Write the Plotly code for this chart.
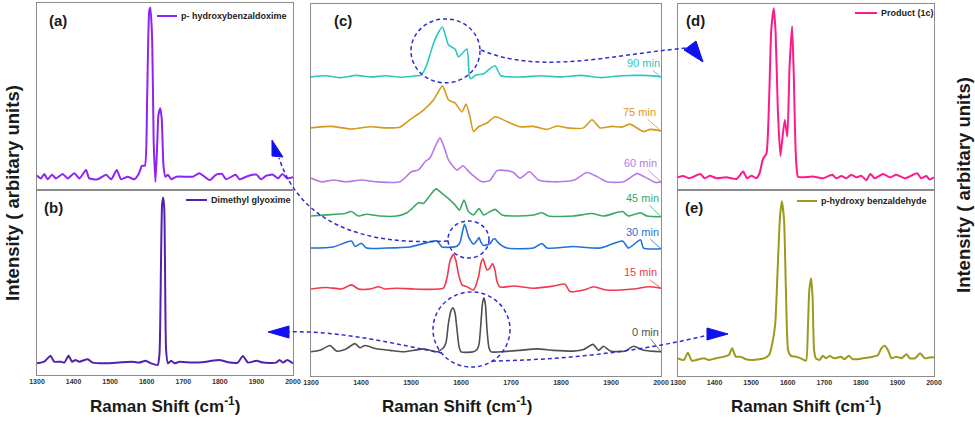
import plotly.graph_objects as go

# ---- data (arbitrary intensity units) ----
# (a) p- hydroxybenzaldoxime
shift_a = [1300, 1311, 1320, 1329, 1341, 1352, 1370, 1384, 1402, 1416, 1434, 1443, 1466, 1489, 1503,
           1518, 1530, 1548, 1566, 1578, 1587, 1595, 1601, 1607, 1610, 1615, 1619, 1624, 1629, 1632,
           1637, 1641, 1646, 1651, 1658, 1667, 1681, 1708, 1726, 1744, 1772, 1790, 1806, 1817, 1843,
           1854, 1877, 1900, 1913, 1927, 1945, 1959, 1971, 1984, 2000]
int_a = [7.7, 6.2, 8.6, 5.7, 8.2, 6.2, 8.6, 6.2, 9.0, 6.2, 10.7, 6.2, 5.7, 8.2, 5.7,
         10.7, 5.7, 7.1, 5.7, 8.6, 12.9, 13.0, 48, 96, 97.5, 80, 26, 4.3, 26, 40,
         43.7, 38.3, 12.5, 7.1, 8.2, 5.7, 7.1, 7.1, 7.1, 9.0, 5.3, 8.2, 8.6, 5.7, 8.2,
         5.7, 7.5, 8.2, 5.7, 7.7, 8.2, 6.2, 8.6, 6.2, 6.8]

# (b) Dimethyl glyoxime
shift_b = [1300, 1320, 1337, 1347, 1366, 1375, 1386, 1396, 1405, 1416, 1439, 1452, 1489, 1525, 1557,
           1580, 1597, 1612, 1630, 1635, 1639, 1642, 1645, 1648, 1650, 1653, 1658, 1667, 1676, 1690,
           1726, 1763, 1799, 1827, 1849, 1863, 1877, 1900, 1918, 1954, 1963, 1973, 1984, 2000]
int_b = [6.3, 7.2, 10.4, 7.2, 7.2, 6.7, 10.4, 7.2, 8.1, 7.2, 8.5, 6.7, 6.3, 6.8, 7.2,
         6.7, 7.7, 6.3, 5.4, 11.7, 60, 92, 96, 90, 60, 13.4, 6.3, 7.7, 6.3, 7.2,
         6.7, 7.2, 8.1, 6.7, 6.7, 10.3, 6.7, 7.7, 6.7, 6.7, 8.1, 6.7, 8.1, 6.3]

# (c) time series, relative to each trace's own baseline
times = ["0 min", "15 min", "30 min", "45 min", "60 min", "75 min", "90 min"]
offsets = [6.5, 23.4, 34.4, 43, 52.2, 66.7, 80.4]

shift_0 = [1300, 1318, 1338, 1351, 1368, 1388, 1398, 1408, 1431, 1458, 1485, 1525, 1552, 1565, 1570,
           1575, 1580, 1584, 1588, 1592, 1596, 1600, 1625, 1632, 1636, 1640, 1643, 1646, 1649, 1652,
           1656, 1660, 1678, 1718, 1752, 1785, 1825, 1845, 1864, 1875, 1885, 1899, 1929, 1945, 1965, 2000]
int_0 = [0, 0.4, 1.7, 0.2, 0.6, 2.2, 1.1, 1.7, 0.8, 0.4, 0, 0.8, 0, 1.1, 2.5,
         7.8, 11, 11.8, 10.5, 6, 1.5, 0, 0, 0.6, 2, 8, 13, 14.5, 12.5, 6,
         1, 0, 0, 0.4, 0.8, 0.4, 0.2, 0.6, 2, 0.4, 1.5, 0.2, 0.2, 1.5, 0.4, 0]

shift_15 = [1300, 1331, 1361, 1381, 1395, 1418, 1435, 1448, 1471, 1505, 1545, 1565, 1572, 1578, 1585,
            1590, 1595, 1602, 1612, 1625, 1635, 1640, 1644, 1648, 1652, 1657, 1663, 1668, 1672, 1678,
            1705, 1745, 1785, 1808, 1818, 1845, 1865, 1892, 1945, 1975, 2000]
int_15 = [0, 0.4, 0, 1.1, 0, 0, 0.6, 0, 0.2, 0, -0.1, 0.2, 3, 7.5, 9.3,
          7.5, 4, 1.1, 0.6, -0.3, 3.3, 7, 8.1, 6.5, 5.1, 5.5, 6.8, 5, 2, 0.5,
          0.8, 0.2, 0.8, 1.3, -0.7, -0.3, 0.6, -0.3, 0, 0.6, 0.2]

shift_30 = [1300, 1345, 1381, 1388, 1401, 1411, 1451, 1498, 1552, 1562, 1592, 1598, 1602, 1607, 1611,
            1615, 1625, 1632, 1636, 1640, 1645, 1658, 1664, 1668, 1672, 1678, 1692, 1745, 1762, 1772,
            1825, 1879, 1923, 1935, 1959, 1965, 2000]
int_30 = [0, 0.3, 1.9, 0.4, 1.3, 0, 0, 0.3, 1.9, 0.3, 0.5, 1.5, 3.8, 6.4, 5,
          3, 1, 2, 2.8, 1.5, 0.7, 1.2, 2.3, 2.5, 1.8, 1, 0, 0, 1.2, 0,
          0.4, 0, 1.9, 0, 2.2, 0, -0.2]

shift_45 = [1300, 1331, 1368, 1381, 1395, 1411, 1438, 1471, 1492, 1502, 1515, 1525, 1535, 1550, 1562,
            1575, 1588, 1597, 1606, 1615, 1625, 1636, 1645, 1668, 1682, 1712, 1745, 1762, 1775, 1825,
            1862, 1885, 1923, 1935, 1959, 1972, 2000]
int_45 = [0, 0.3, 0.7, 1.2, 0, 0.5, 0, 0, 0.9, 2, 3.6, 3.4, 5, 7.3, 6.1,
          4.7, 3, 1.6, 4.3, 1.2, 0.3, 2, 0.3, 1.8, 0.3, 0, 0.3, 0.9, 0, 0,
          0.7, 0, 1.2, 0, 0.9, 0, -0.2]

shift_60 = [1300, 1320, 1345, 1370, 1400, 1430, 1478, 1501, 1515, 1528, 1538, 1548, 1558, 1566, 1575,
            1592, 1604, 1618, 1642, 1658, 1672, 1692, 1705, 1718, 1737, 1755, 1785, 1825, 1852, 1872,
            1892, 1925, 1952, 1972, 1989, 2000]
int_60 = [1, 0, 0.5, 0, 0.5, 0, 0, 2.7, 3.2, 5.4, 6.4, 9.4, 11.8, 9.4, 5.9,
          3.2, 4.3, 2.4, 0, 0.4, 3, 3, 2.5, 1, 2.7, 0.5, 0, 0.4, 2.5, 1.4,
          0, 0, 2.2, 1, -0.2, 0]

shift_75 = [1300, 1340, 1380, 1420, 1450, 1478, 1498, 1525, 1545, 1563, 1575, 1588, 1602, 1610, 1618,
            1625, 1635, 1652, 1668, 1692, 1718, 1745, 1772, 1792, 1812, 1845, 1862, 1878, 1902, 1922,
            1938, 1965, 1978, 2000]
int_75 = [0, 0.4, -0.3, 0.3, 0, 0.2, 2.2, 4.8, 7.5, 11.3, 7.5, 6.7, 4.3, 6.4, 3,
          -1, 0.3, 1.3, 3, 1.7, 0.3, 0.4, -0.4, 0.5, 0, 0, 2.2, 0, 0.4, 0.2,
          1, -1, -0.4, -0.8]

shift_90 = [1300, 1330, 1360, 1390, 1420, 1450, 1480, 1510, 1520, 1530, 1545, 1555, 1563, 1575, 1588,
            1595, 1605, 1612, 1617, 1620, 1630, 1645, 1655, 1668, 1680, 1720, 1760, 1800, 1840, 1880,
            1920, 1960, 1990, 2000]
int_90 = [0, 0.3, -0.2, 0.4, 0, 0.3, -0.1, 0.3, 0.5, 2.7, 9, 12, 13.4, 8.6, 7.5,
          5.4, 6.7, 7.5, 0, -0.5, 0.5, 0.8, 1.9, 3, 0.3, 0, 0.3, 0, 0.4, -0.2,
          0.3, 0.4, 0.2, 0]

# (d) Product (1c)
shift_d = [1300, 1314, 1332, 1361, 1373, 1387, 1405, 1432, 1460, 1478, 1489, 1501, 1514, 1523, 1532,
           1542, 1549, 1555, 1562, 1567, 1573, 1580, 1585, 1592, 1599, 1605, 1612, 1616, 1622, 1628,
           1642, 1669, 1696, 1722, 1733, 1747, 1760, 1774, 1788, 1801, 1815, 1826, 1838, 1861, 1879,
           1897, 1920, 1954, 1965, 1979, 1988, 2000]
int_d = [6.8, 7.5, 6.3, 8.6, 6.3, 7.7, 6.3, 6.8, 5.9, 9.9, 6.3, 7.7, 6.3, 9.0, 16.5,
         19.7, 48, 86, 97.7, 84, 43, 18.3, 27, 37.6, 28.7, 66, 88, 66, 19.7, 7.2,
         6.8, 7.2, 6.3, 8.2, 6.3, 7.5, 6.3, 8.2, 6.8, 7.7, 5.3, 8.6, 6.3, 8.6, 6.8,
         8.2, 6.3, 9.0, 6.3, 7.5, 5.7, 6.8]

# (e) p-hydroxy benzaldehyde
shift_e = [1300, 1316, 1327, 1338, 1357, 1371, 1384, 1403, 1426, 1439, 1448, 1458, 1471, 1485, 1503,
           1522, 1535, 1549, 1558, 1566, 1572, 1579, 1584, 1590, 1595, 1601, 1609, 1623, 1636, 1650,
           1655, 1659, 1664, 1668, 1672, 1677, 1687, 1696, 1705, 1714, 1728, 1746, 1755, 1767, 1778,
           1806, 1833, 1847, 1856, 1865, 1874, 1884, 1897, 1911, 1925, 1934, 1948, 1962, 1975, 1989, 2000]
int_e = [9.5, 8.6, 12.5, 8.2, 9.0, 9.5, 8.6, 9.5, 10.4, 11.3, 14.9, 10.4, 10.4, 9.0, 8.6,
         9.0, 9.5, 11.3, 17.6, 28.3, 55, 85.8, 93.9, 84, 46.5, 14, 10.8, 10.4, 9.5, 8.2,
         24.7, 46.2, 52.5, 42.6, 14, 9.5, 8.6, 10.9, 9.5, 10.8, 9.5, 10.4, 9.0, 10.9, 9.0,
         9.5, 10.4, 11.3, 14.9, 16.3, 14, 9.5, 10.4, 9.5, 11.7, 9.5, 9.5, 12.2, 9.5, 10.0, 10.0]

# ---- styling ----
W, H = 975, 421
FONT = "Liberation Sans"
c_colors = ["#505050", "#f2384c", "#1f72d8", "#3aa864", "#b67ae6", "#d39a1c", "#2ec7bf"]
c_shifts = [shift_0, shift_15, shift_30, shift_45, shift_60, shift_75, shift_90]
c_ints = [int_0, int_15, int_30, int_45, int_60, int_75, int_90]
dash_blue = "#2d2dd6"


def px(x):
    return x / W


def py(y):
    return 1 - y / H


fig = go.Figure()

side = [(shift_a, int_a, "#8f22f5", "x", "y"),
        (shift_b, int_b, "#5322ad", "x2", "y2"),
        (shift_d, int_d, "#ff1a8c", "x4", "y4"),
        (shift_e, int_e, "#9a9a1c", "x5", "y5")]
for xs, ys, col, xa, ya in side:
    fig.add_trace(go.Scatter(x=xs, y=ys, mode="lines", xaxis=xa, yaxis=ya,
                             line=dict(color=col, width=2, shape="spline", smoothing=0.5)))

for xs, ys, off, col in zip(c_shifts, c_ints, offsets, c_colors):
    fig.add_trace(go.Scatter(x=xs, y=[v + off for v in ys], mode="lines", xaxis="x3", yaxis="y3",
                             line=dict(color=col, width=1.6, shape="spline", smoothing=0.6)))

ax_common = dict(range=[1300, 2000], showline=True, mirror=True, linecolor="#8c8c8c", linewidth=1,
                 showgrid=False, zeroline=False, ticks="", automargin=False,
                 tickvals=[1300, 1400, 1500, 1600, 1700, 1800, 1900, 2000],
                 tickfont=dict(family=FONT, size=7, color="#333", weight="bold"))
ay_common = dict(range=[0, 100], showline=True, mirror=True, linecolor="#8c8c8c", linewidth=1,
                 showgrid=False, zeroline=False, showticklabels=False, ticks="", automargin=False)

dom_l = [px(37), px(293)]
dom_c = [px(311), px(661)]
dom_r = [px(678), px(934)]
fig.update_layout(
    xaxis=dict(ax_common, domain=dom_l, anchor="y", showticklabels=False),
    xaxis2=dict(ax_common, domain=dom_l, anchor="y2"),
    xaxis3=dict(ax_common, domain=dom_c, anchor="y3"),
    xaxis4=dict(ax_common, domain=dom_r, anchor="y4", showticklabels=False),
    xaxis5=dict(ax_common, domain=dom_r, anchor="y5"),
    yaxis=dict(ay_common, domain=[py(190), py(3)], anchor="x"),
    yaxis2=dict(ay_common, domain=[py(375), py(190)], anchor="x2"),
    yaxis3=dict(ay_common, domain=[py(376), py(4)], anchor="x3"),
    yaxis4=dict(ay_common, domain=[py(190), py(4)], anchor="x4"),
    yaxis5=dict(ay_common, domain=[py(376), py(190)], anchor="x5"),
)

ann = []
shapes = []


def note(text, x, y, size, color="#1a1a1a", xanchor="center", **kw):
    ann.append(dict(text=text, x=px(x), y=py(y), xref="paper", yref="paper", showarrow=False,
                    xanchor=xanchor, yanchor="middle", font=dict(family=FONT, size=size, color=color), **kw))


# panel labels
for lab, x, y in [("(a)", 58, 20), ("(b)", 53, 207), ("(c)", 343, 20), ("(d)", 695, 21), ("(e)", 694, 207)]:
    note("<b>%s</b>" % lab, x, y, 15)

# in-panel legends
legends = [("p- hydroxybenzaldoxime", "#8f22f5", 157, 177, 16),
           ("Dimethyl glyoxime", "#5322ad", 186, 207, 200),
           ("Product (1c)", "#ff1a8c", 855, 877, 13),
           ("p-hydroxy benzaldehyde", "#9a9a1c", 797, 817, 201)]
for txt, col, x0, x1, y in legends:
    shapes.append(dict(type="line", xref="paper", yref="paper", x0=px(x0), x1=px(x1), y0=py(y), y1=py(y),
                       line=dict(color=col, width=2)))
    note("<b>%s</b>" % txt, x1 + 2, y, 9, color="#222", xanchor="left")

# time labels with leader lines in (c)
label_off = [(-16, -20), (-21, -16), (-19, -17), (-19, -19), (-21, -19), (-22, -19), (-18, -14)]
for t, xs, ys, off, col, (dx, dy) in zip(times, c_shifts, c_ints, offsets, c_colors, label_off):
    ann.append(dict(text=t, x=xs[-1], y=ys[-1] + off, xref="x3", yref="y3", showarrow=True,
                    arrowhead=0, arrowwidth=0.8, arrowcolor=col, ax=dx, ay=dy, standoff=0,
                    font=dict(family=FONT, size=11, color=col)))

# axis titles
for xc in [165, 457, 806]:
    note("<b>Raman Shift (cm<sup>-1</sup>)</b>", xc, 405, 17)
for xc, yc in [(12, 193), (963, 185)]:
    note("<b>Intensity ( arbitary units)</b>", xc, yc, 18.5, textangle=-90)

# dashed circles in (c)
for x0, x1, y0, y1 in [(1500, 1638, 78.8, 96.0), (1574, 1656, 31.7, 41.7), (1544, 1698, 2.4, 22.6)]:
    shapes.append(dict(type="circle", xref="x3", yref="y3", x0=x0, x1=x1, y0=y0, y1=y1,
                       line=dict(color=dash_blue, width=1.5, dash="4px,3px")))


def path(pts, close=False):
    s = "M %f,%f" % (px(pts[0][0]), py(pts[0][1]))
    if close:
        for p in pts[1:]:
            s += " L %f,%f" % (px(p[0]), py(p[1]))
        return s + " Z"
    s += " C " + " ".join("%f,%f" % (px(p[0]), py(p[1])) for p in pts[1:])
    return s


connectors = [[(481, 50), (540, 75), (610, 55), (686, 48)],
              [(448, 241), (360, 246), (300, 222), (279, 158)],
              [(442, 353), (400, 345), (340, 330), (288, 332)],
              [(492, 361), (560, 360), (640, 352), (708, 335)]]
for c in connectors:
    shapes.append(dict(type="path", xref="paper", yref="paper", path=path(c),
                       line=dict(color=dash_blue, width=1.5, dash="4px,3px")))

heads = [[(703, 62), (684, 50), (696, 41)],
         [(272, 140), (272, 156), (283, 157)],
         [(268, 332), (289, 326), (289, 338)],
         [(728, 334), (707, 328), (707, 340)]]
for h in heads:
    shapes.append(dict(type="path", xref="paper", yref="paper", path=path(h, close=True),
                       fillcolor="#1010f0", line=dict(color="#1010f0", width=1)))

fig.update_layout(width=W, height=H, margin=dict(l=0, r=0, t=0, b=0, pad=0), showlegend=False,
                  paper_bgcolor="white", plot_bgcolor="white", annotations=ann, shapes=shapes,
                  font=dict(family=FONT))

# page body has a default margin; drop it so the figure sits at the window's corner
fig.write_html("out.html", config={"displayModeBar": False},
               post_script="document.body.style.margin='0px';")
